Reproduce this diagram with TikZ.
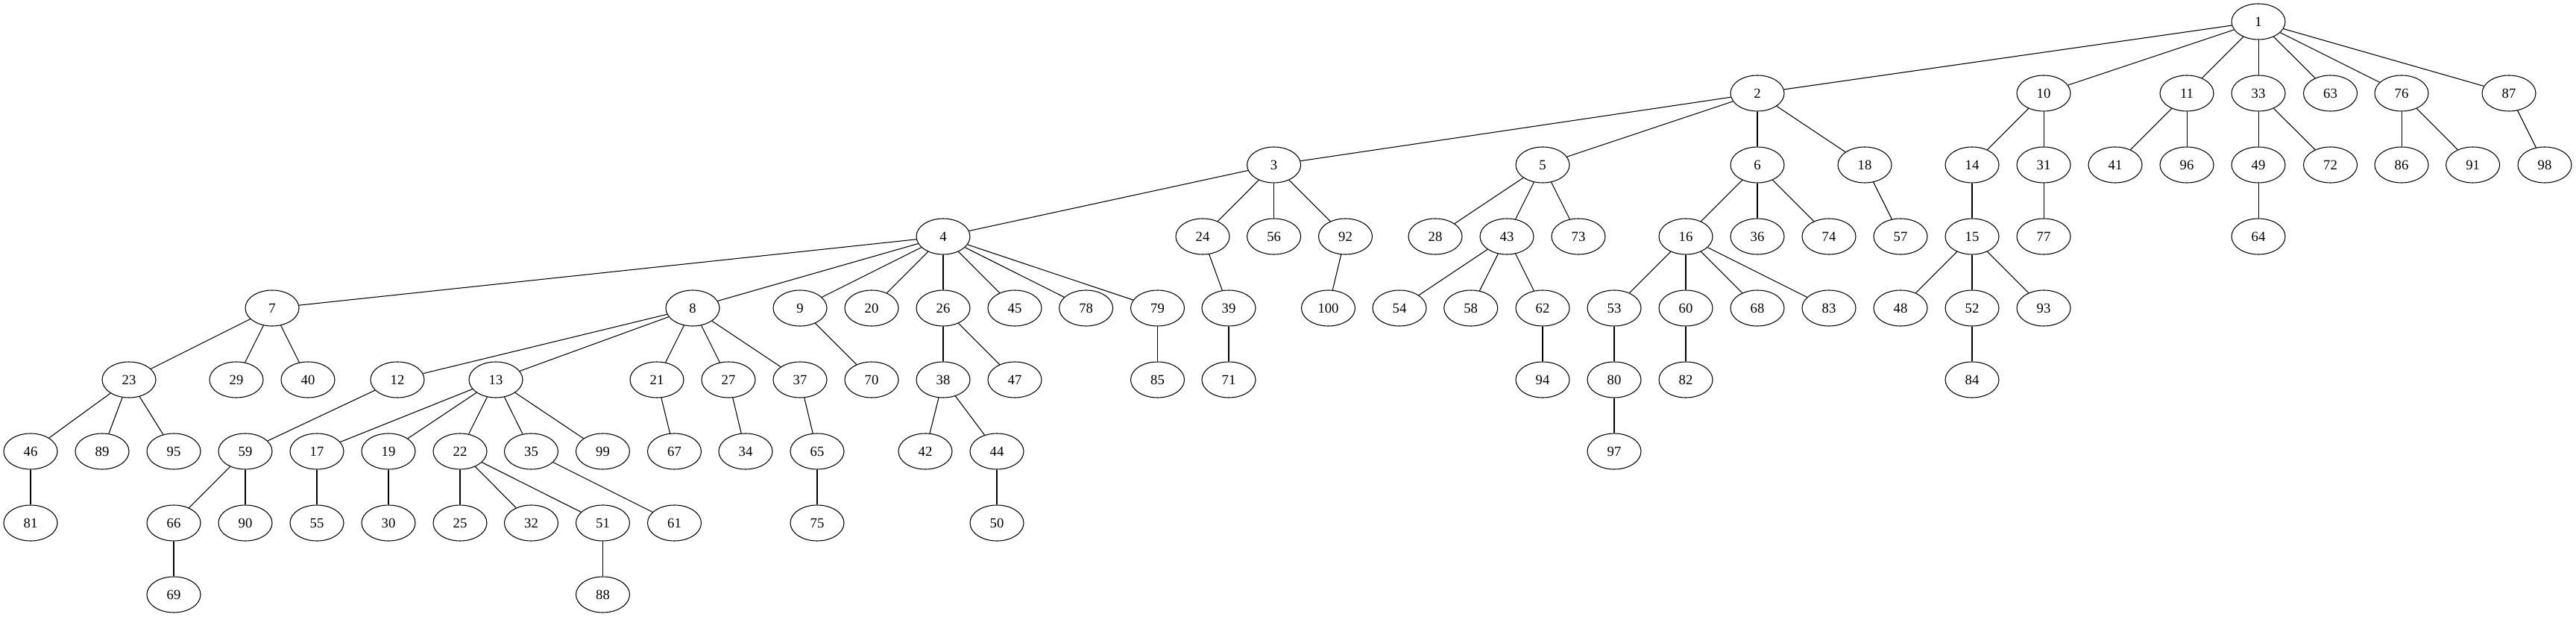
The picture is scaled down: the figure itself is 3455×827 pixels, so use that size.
\documentclass[tikz,border=0pt]{standalone}
\usepackage{fontspec}
\setmainfont{Liberation Serif}
\usetikzlibrary{shapes.geometric}
\tikzset{
	tree diagram/.style={
		x=0.75pt, y=-0.75pt,
		line width=0.8pt,
		every node/.style={font=\fontsize{14}{16}\selectfont}},
	vert/.style={draw, ellipse, inner sep=0pt,
		minimum width=54pt, minimum height=36pt},
	rank/.store in=\rankgap,
	rank=96
}
\begin{document}
\begin{tikzpicture}[tree diagram]
	\useasboundingbox (0,0) rectangle (3455,827);
	% vertices, rank by rank
	\foreach \r/\lst in {
		0/{1/3029},
		1/{2/2357,10/2741,11/2933,33/3029,63/3125.5,76/3221,87/3365},
		2/{3/1708.6,5/2069,6/2357,18/2501,14/2645,31/2741,41/2837,96/2933,49/3029,72/3125.5,86/3221,91/3316.6,98/3413},
		3/{4/1265,24/1613,56/1708.6,92/1804.5,28/1925,43/2021,73/2117,16/2261,36/2357,74/2453,57/2549,15/2645,77/2741,64/3029},
		4/{7/365,8/929,9/1073,20/1169,26/1265,45/1361,78/1456.6,79/1552.5,39/1648,100/1781.5,54/1877,58/1972.7,62/2069,53/2165,60/2261,68/2357,83/2453,48/2549,52/2645,93/2741},
		5/{23/173,29/317,40/413,12/533,13/665,21/881,27/977,37/1073,70/1169,38/1265,47/1361,85/1552.5,71/1648,94/2069,80/2165,82/2261,84/2645},
		6/{46/41,89/137,95/233,59/329,17/425,19/521,22/617,35/712.5,99/808.5,67/904.5,34/1000,65/1096,42/1241,44/1337,97/2165},
		7/{81/41,66/233,90/329,55/425,30/521,25/617,32/712.5,51/808.5,61/904.5,75/1096,50/1337},
		8/{69/233,88/808.5}}
		\foreach \n/\x in \lst
			\node[vert] (n\n) at (\x,{29+\rankgap*\r}) {\n};
	% edges
	\foreach \a/\b in {1/2,1/10,1/11,1/33,1/63,1/76,1/87,
		2/3,2/5,2/6,2/18,10/14,10/31,11/41,11/96,33/49,33/72,76/86,76/91,87/98,
		3/4,3/24,3/56,3/92,5/28,5/43,5/73,6/16,6/36,6/74,18/57,14/15,31/77,49/64,
		4/7,4/8,4/9,4/20,4/26,4/45,4/78,4/79,24/39,92/100,43/54,43/58,43/62,
		16/53,16/60,16/68,16/83,15/48,15/52,15/93,
		7/23,7/29,7/40,8/12,8/13,8/21,8/27,8/37,9/70,26/38,26/47,79/85,39/71,
		62/94,53/80,60/82,52/84,
		23/46,23/89,23/95,12/59,13/17,13/19,13/22,13/35,13/99,21/67,27/34,37/65,
		38/42,38/44,80/97,
		46/81,59/66,59/90,17/55,19/30,22/25,22/32,22/51,35/61,65/75,44/50,
		66/69,51/88}
		\draw (n\a) -- (n\b);
\end{tikzpicture}
\end{document}
